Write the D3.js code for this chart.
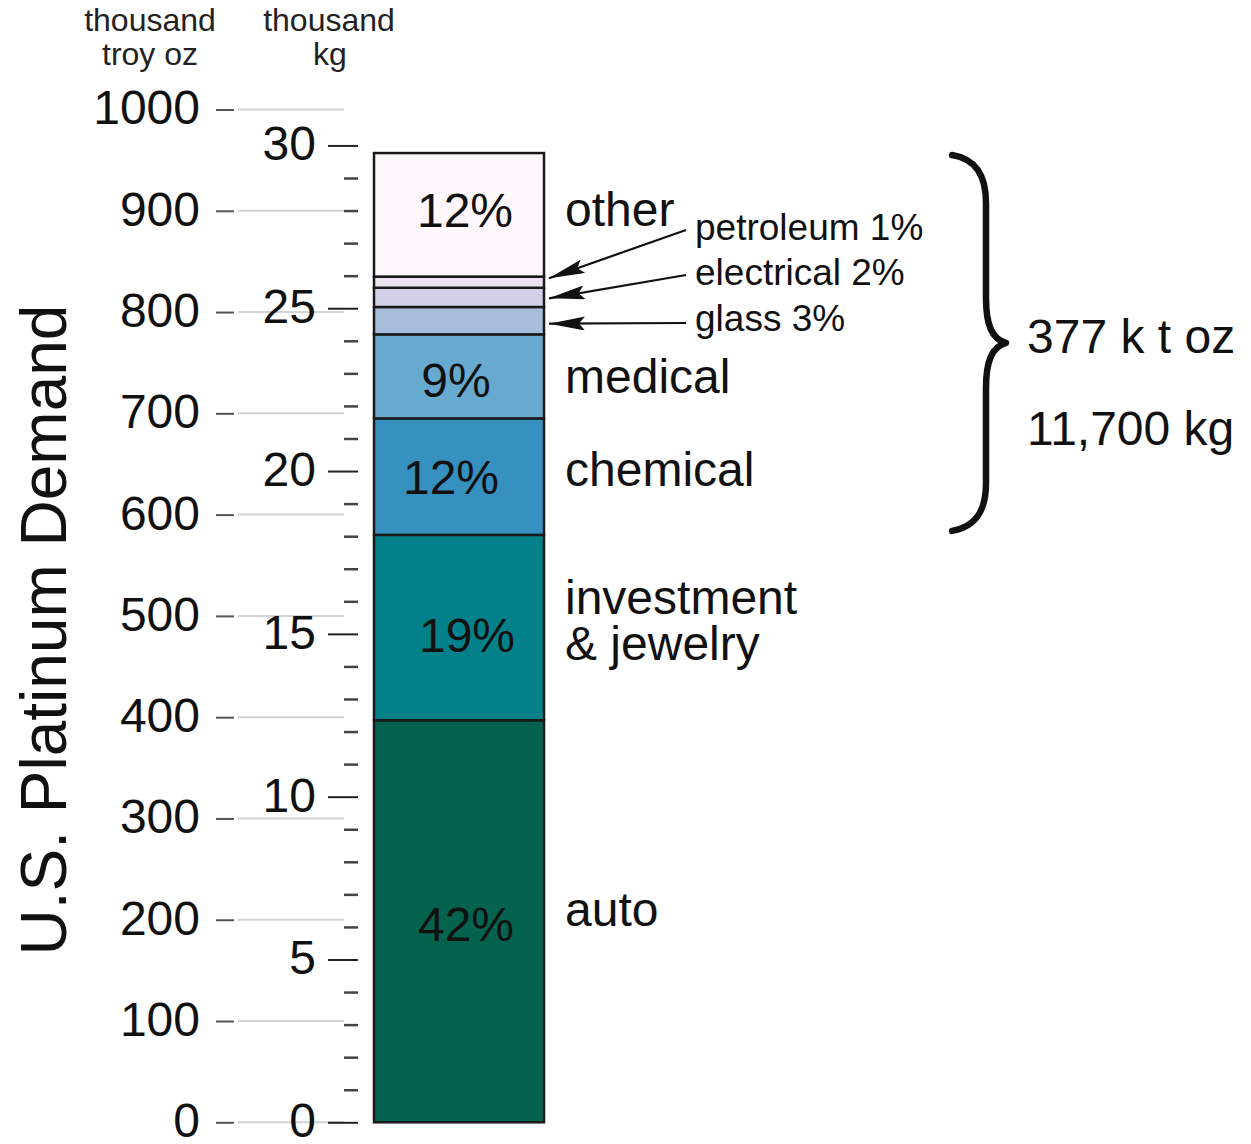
<!DOCTYPE html>
<html>
<head>
<meta charset="utf-8">
<script src="https://cdn.jsdelivr.net/npm/d3@7"></script>
<style>
  html, body { margin: 0; padding: 0; background: #fff; }
  svg { display: block; font-family: "Liberation Sans", Arial, Helvetica, sans-serif; }
</style>
</head>
<body>
<svg id="chart" width="1251" height="1144"></svg>
<script>
// ---- data (thousand troy oz, bottom to top) ----
const categories = ["auto", "investment\n& jewelry", "chemical", "medical", "glass", "electrical", "petroleum", "other"];
const demandKOz  = [397, 183, 115, 83, 27, 19, 11, 122];
const percentLabels = ["42%", "19%", "12%", "9%", "3%", "2%", "1%", "12%"];
const segmentColors = ["#03634e", "#02818a", "#3690c0", "#67a9cf", "#a6bddb", "#d0d1e6", "#ece2f0", "#fff7fb"];
const ozTicks = [0, 100, 200, 300, 400, 500, 600, 700, 800, 900, 1000];
const kgMajorTicks = [0, 5, 10, 15, 20, 25, 30];
const kgMinorTicks = d3.range(0, 31, 1);
const bracketLines = ["377 k t oz", "11,700 kg"];
const OZ_PER_KG = 32.1507;

// ---- layout ----
const svg = d3.select("#chart");
const yOz = d3.scaleLinear().domain([0, 1000]).range([1122.3, 109.5]);
const yKg = d3.scaleLinear().domain([0, 30]).range([yOz(0), yOz(30 * OZ_PER_KG)]);
const barX0 = 374, barX1 = 544;
const BIG = 48;

// per-label placement nudges (layout only)
const pctNudge = { "auto": [466, 20], "investment\n& jewelry": [467, 24], "chemical": [451, 17], "medical": [456, 21], "other": [465, 12] };
const catNudge = { "auto": 5, "investment\n& jewelry": -14, "chemical": 9, "medical": 17, "other": 11 };

// stacked data
let cum = 0;
const segs = demandKOz.map((v, i) => {
  const s = { name: categories[i], value: v, y0: cum, y1: cum + v, pct: percentLabels[i], color: segmentColors[i] };
  cum += v;
  return s;
});
const total = cum;

// ---- headers ----
const hdr = svg.append("g").attr("font-size", 32).attr("fill", "#222").attr("text-anchor", "middle");
hdr.append("text").attr("x", 150).attr("y", 31).text("thousand");
hdr.append("text").attr("x", 150).attr("y", 65).text("troy oz");
hdr.append("text").attr("x", 329).attr("y", 31).text("thousand");
hdr.append("text").attr("x", 330).attr("y", 65).text("kg");

// ---- y title ----
svg.append("text")
  .attr("transform", "translate(66,630) rotate(-90)")
  .attr("text-anchor", "middle")
  .attr("font-size", 64)
  .attr("fill", "#111")
  .text("U.S. Platinum Demand");

// ---- grid lines from oz axis ----
svg.append("g").selectAll("line").data(ozTicks).join("line")
  .attr("x1", 238).attr("x2", 344)
  .attr("y1", d => yOz(d)).attr("y2", d => yOz(d))
  .attr("stroke", "#d4d4d4").attr("stroke-width", 2);

// ---- oz axis ----
const ozAxis = svg.append("g").attr("transform", "translate(234,0)")
  .call(d3.axisLeft(yOz).tickValues(ozTicks).tickSize(18).tickPadding(16).tickFormat(d3.format("d")));
ozAxis.select(".domain").remove();
ozAxis.selectAll(".tick line").attr("stroke", "#555").attr("stroke-width", 2);
ozAxis.selectAll(".tick text").attr("font-size", BIG).attr("fill", "#111").attr("dy", "0.3em")
  .attr("font-family", "Liberation Sans, Arial, sans-serif");

// ---- kg axis (minor) ----
const kgMinor = svg.append("g").attr("transform", "translate(358,0)")
  .call(d3.axisLeft(yKg).tickValues(kgMinorTicks.filter(d => d % 5 !== 0)).tickSize(14).tickFormat(""));
kgMinor.select(".domain").remove();
kgMinor.selectAll(".tick line").attr("stroke", "#444").attr("stroke-width", 2.5);

// ---- kg axis (major) ----
const kgMajor = svg.append("g").attr("transform", "translate(358,0)")
  .call(d3.axisLeft(yKg).tickValues(kgMajorTicks).tickSize(30).tickPadding(12).tickFormat(d3.format("d")));
kgMajor.select(".domain").remove();
kgMajor.selectAll(".tick line").attr("stroke", "#222").attr("stroke-width", 2);
kgMajor.selectAll(".tick text").attr("font-size", BIG).attr("fill", "#111").attr("dy", "0.3em")
  .attr("font-family", "Liberation Sans, Arial, sans-serif");

// ---- stacked bar ----
svg.append("g").selectAll("rect").data(segs).join("rect")
  .attr("x", barX0).attr("width", barX1 - barX0)
  .attr("y", d => yOz(d.y1)).attr("height", d => yOz(d.y0) - yOz(d.y1))
  .attr("fill", d => d.color)
  .attr("stroke", "#1a1a1a").attr("stroke-width", 2.5);

// ---- percent labels inside big segments ----
const inside = segs.filter(d => d.value > 50);
svg.append("g").selectAll("text").data(inside).join("text")
  .attr("x", d => pctNudge[d.name][0])
  .attr("y", d => (yOz(d.y0) + yOz(d.y1)) / 2 + pctNudge[d.name][1])
  .attr("text-anchor", "middle")
  .attr("font-size", BIG).attr("fill", "#111")
  .text(d => d.pct);

// ---- category labels for big segments ----
const catG = svg.append("g").attr("font-size", BIG).attr("fill", "#111");
inside.forEach(d => {
  const mid = (yOz(d.y0) + yOz(d.y1)) / 2;
  const lines = d.name.split("\n");
  lines.forEach((l, i) => {
    catG.append("text").attr("x", 565).attr("y", mid + catNudge[d.name] + i * 46).text(l);
  });
});

// ---- small segments with arrows ----
const defs = svg.append("defs");
defs.append("marker")
  .attr("id", "arrow").attr("markerUnits", "userSpaceOnUse")
  .attr("viewBox", "0 0 36 14").attr("refX", 36).attr("refY", 7)
  .attr("markerWidth", 36).attr("markerHeight", 14).attr("orient", "auto")
  .append("path").attr("d", "M0,0 L36,7 L0,14 L6,7 Z").attr("fill", "#111");

const small = segs.filter(d => d.value <= 50).reverse(); // petroleum, electrical, glass
const smallTextY = [240, 285, 331];
const smallArrowY = [230, 275, 323];
const smallTipOffset = [-4, 1, 3];
const smallG = svg.append("g");
small.forEach((d, i) => {
  const mid = (yOz(d.y0) + yOz(d.y1)) / 2 + smallTipOffset[i];
  smallG.append("line")
    .attr("x1", 686).attr("y1", smallArrowY[i])
    .attr("x2", 549).attr("y2", mid)
    .attr("stroke", "#111").attr("stroke-width", 2.2)
    .attr("marker-end", "url(#arrow)");
  smallG.append("text")
    .attr("x", 695).attr("y", smallTextY[i])
    .attr("font-size", 37).attr("fill", "#111")
    .text(d.name + " " + d.pct);
});

// ---- bracket over chemical .. other ----
const chemIdx = categories.indexOf("chemical");
const bTop = yOz(total) + 2, bBot = yOz(segs[chemIdx].y0) - 4;
const bMid = (bTop + bBot) / 2;
const xe = 952, xs = 986, xt = 1006;
const bracePath =
  `M${xe},${bTop} C${xe + 24},${bTop + 4} ${xs},${bTop + 20} ${xs},${bTop + 48} ` +
  `L${xs},${bMid - 45} C${xs},${bMid - 18} ${xs + 6},${bMid - 4} ${xt},${bMid} ` +
  `C${xs + 6},${bMid + 4} ${xs},${bMid + 18} ${xs},${bMid + 45} ` +
  `L${xs},${bBot - 48} C${xs},${bBot - 20} ${xe + 24},${bBot - 4} ${xe},${bBot}`;
svg.append("path").attr("d", bracePath)
  .attr("fill", "none").attr("stroke", "#111").attr("stroke-width", 6.5)
  .attr("stroke-linecap", "round").attr("stroke-linejoin", "round");

svg.append("g").attr("font-size", BIG).attr("fill", "#111").selectAll("text")
  .data(bracketLines).join("text")
  .attr("x", 1027).attr("y", (d, i) => 353 + i * 92)
  .text(d => d);
</script>
</body>
</html>
